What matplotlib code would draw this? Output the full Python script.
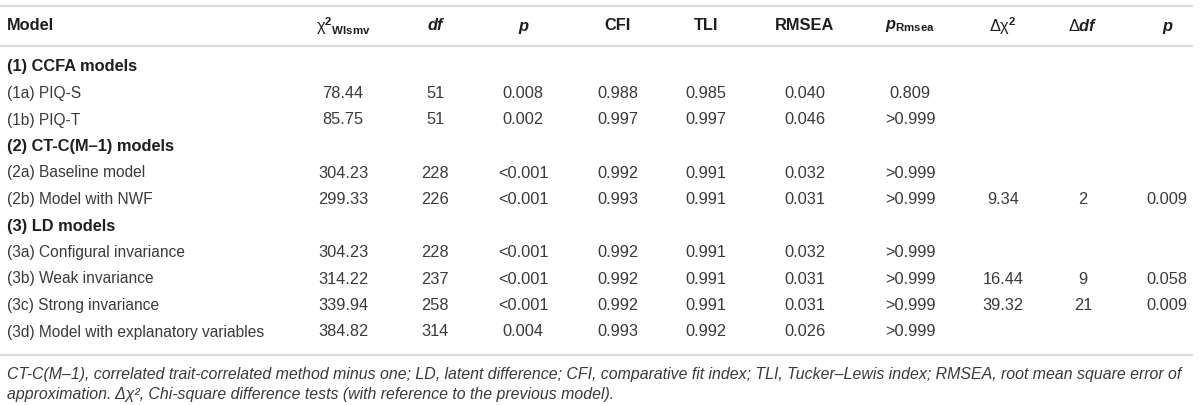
import matplotlib
matplotlib.use("Agg")
import matplotlib.pyplot as plt

plt.rcParams['font.family'] = ['Liberation Sans', 'DejaVu Sans']
plt.rcParams['mathtext.fontset'] = 'custom'
plt.rcParams['mathtext.rm'] = 'Liberation Sans'
plt.rcParams['mathtext.bf'] = 'Liberation Sans:bold'
plt.rcParams['mathtext.it'] = 'Liberation Sans:italic:bold'

# table content
headers = ["Model", r"$\mathrm{\chi}^{\mathbf{2}}{}_{\mathbf{Wlsmv}}$", "df", "p", "CFI", "TLI",
           "RMSEA", r"$p_{\mathbf{Rmsea}}$", r"$\mathrm{\Delta\chi}^{\mathbf{2}}$", r"$\mathrm{\Delta}df$", "p"]
header_italic = [False, False, True, True, False, False, False, False, False, False, True]

group_titles = ["(1) CCFA models", "(2) CT-C(M\u20131) models", "(3) LD models"]
group_of = [0, 0, 1, 1, 2, 2, 2, 2]
model_names = ["(1a) PIQ-S", "(1b) PIQ-T", "(2a) Baseline model", "(2b) Model with NWF",
               "(3a) Configural invariance", "(3b) Weak invariance", "(3c) Strong invariance",
               "(3d) Model with explanatory variables"]
chi2 = ["78.44", "85.75", "304.23", "299.33", "304.23", "314.22", "339.94", "384.82"]
df = ["51", "51", "228", "226", "228", "237", "258", "314"]
p = ["0.008", "0.002", "<0.001", "<0.001", "<0.001", "<0.001", "<0.001", "0.004"]
cfi = ["0.988", "0.997", "0.992", "0.993", "0.992", "0.992", "0.992", "0.993"]
tli = ["0.985", "0.997", "0.991", "0.991", "0.991", "0.991", "0.991", "0.992"]
rmsea = ["0.040", "0.046", "0.032", "0.031", "0.032", "0.031", "0.031", "0.026"]
p_rmsea = ["0.809", ">0.999", ">0.999", ">0.999", ">0.999", ">0.999", ">0.999", ">0.999"]
d_chi2 = ["", "", "", "9.34", "", "16.44", "39.32", ""]
d_df = ["", "", "", "2", "", "9", "21", ""]
d_p = ["", "", "", "0.009", "", "0.058", "0.009", ""]

footnote = ["CT-C(M\u20131), correlated trait-correlated method minus one; LD, latent difference; CFI, comparative "
            "fit index; TLI, Tucker\u2013Lewis index; RMSEA, root mean square error of",
            "approximation. \u0394\u03c7\u00b2, Chi-square difference tests (with reference to the previous model)."]

value_cols = [chi2, df, p, cfi, tli, rmsea, p_rmsea, d_chi2, d_df, d_p]
col_x = [343, 435, 523, 618, 706, 805, 910, 1003, 1083, 1167]

W, H = 1200, 405
fig = plt.figure(figsize=(12, 4.05), dpi=100)
ax = fig.add_axes([0, 0, 1, 1])
ax.set_xlim(0, W)
ax.set_ylim(H, 0)
ax.axis('off')

body_col = '#3a3a3a'
bold_col = '#1e1e1e'
line_col = '#dcdcdc'
fs = 11.8
fs_name = 11.2
fs_note = 11.45

# rules
for yl in [6, 45.5, 355]:
    ax.plot([0, 1193], [yl, yl], color=line_col, lw=1.6, solid_capstyle='butt')

# header
hy = 26
ax.text(7, hy, headers[0], ha='left', va='center', fontsize=fs, fontweight='bold', color=bold_col)
for j, h in enumerate(headers[1:]):
    ax.text(col_x[j], hy, h, ha='center', va='center', fontsize=fs, fontweight='bold',
            style='italic' if header_italic[j + 1] else 'normal', color=bold_col)

# body rows
y0, dy = 67, 26.5
row = 0
last_group = -1
for i, name in enumerate(model_names):
    if group_of[i] != last_group:
        last_group = group_of[i]
        ax.text(7, y0 + row * dy, group_titles[last_group], ha='left', va='center',
                fontsize=fs, fontweight='bold', color=bold_col)
        row += 1
    y = y0 + row * dy
    ax.text(7, y, name, ha='left', va='center', fontsize=fs_name, color=body_col)
    for j, col in enumerate(value_cols):
        if col[i]:
            ax.text(col_x[j], y, col[i], ha='center', va='center', fontsize=fs, color=body_col)
    row += 1

# footnote
ax.text(7, 374, footnote[0], ha='left', va='center', fontsize=fs_note, style='italic', color=body_col)
ax.text(7, 394, footnote[1], ha='left', va='center', fontsize=fs_note, style='italic', color=body_col)

fig.savefig("out.png", dpi=100, facecolor='white')
